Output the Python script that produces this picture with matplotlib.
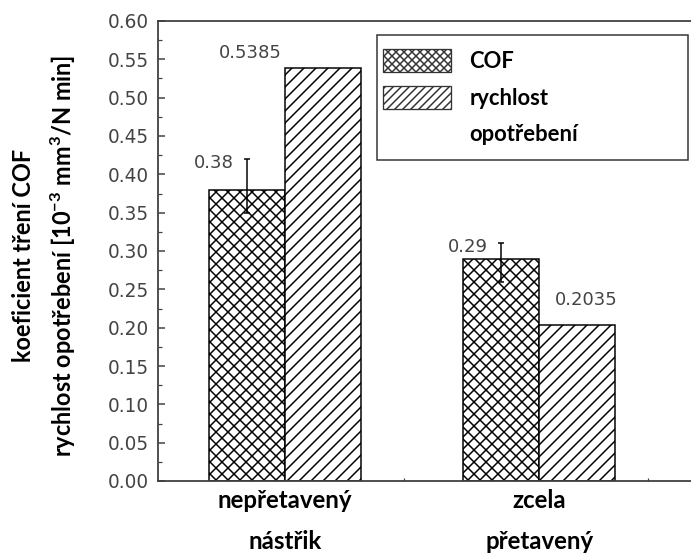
import numpy as np
import matplotlib
matplotlib.use('Agg')
import matplotlib.pyplot as plt
import matplotlib.ticker as mtick
from matplotlib.patches import Patch, Rectangle
from matplotlib.legend_handler import HandlerPatch

# data
groups = ['nepřetavený\nnástřik', 'zcela\npřetavený']
cof = [0.38, 0.29]
cof_err_low = [0.03, 0.03]
cof_err_high = [0.04, 0.02]
wear = [0.5385, 0.2035]
cof_labels = ['0.38', '0.29']
wear_labels = ['0.5385', '0.2035']

label_font = ['Lato', 'DejaVu Sans']
num_font = ['DejaVu Sans']
num_color = '#444444'
axis_color = '#404040'

plt.rcParams['hatch.linewidth'] = 1.5
plt.rcParams['mathtext.fontset'] = 'custom'
plt.rcParams['mathtext.bf'] = 'Lato:bold'
plt.rcParams['mathtext.rm'] = 'Lato:bold'


def short_patch(legend, orig_handle, xdescent, ydescent, width, height, fontsize):
    # shorter key, nudged left towards the frame
    h = 23
    return Rectangle((-xdescent - 6, -ydescent + (height - h) / 2), width, h)


# 72 dpi so that points == pixels
fig = plt.figure(figsize=(691 / 72, 553 / 72), dpi=72)
ax = fig.add_axes([158 / 691, 72 / 553, 559 / 691, 460 / 553])

x = np.arange(1, len(groups) + 1)
w = 0.3

ax.bar(x - w / 2, cof, w, color='white', edgecolor='black', linewidth=1.5,
       hatch='xx', zorder=2)
ax.bar(x + w / 2, wear, w, color='white', edgecolor='black', linewidth=1.5,
       hatch='//', zorder=2)
ax.errorbar(x - w / 2, cof, yerr=[cof_err_low, cof_err_high], fmt='none',
            ecolor='black', elinewidth=1.5, capsize=3, capthick=1.5, zorder=3)

# value labels
for xi, v, hi, txt in zip(x - w / 2, cof, cof_err_high, cof_labels):
    ax.annotate(txt, (xi, v + hi), xytext=(-13, -4), textcoords='offset points',
                ha='right', va='center', fontsize=18, family=num_font,
                color=num_color)
ax.annotate(wear_labels[0], (x[0] - w / 2, wear[0]), xytext=(3, 15),
            textcoords='offset points', ha='center', va='center',
            fontsize=18, family=num_font, color=num_color)
ax.annotate(wear_labels[1], (x[1] + w / 2, wear[1]), xytext=(9, 25),
            textcoords='offset points', ha='center', va='center',
            fontsize=18, family=num_font, color=num_color)

ax.set_xlim(0.5, 2.7)
ax.set_ylim(0, 0.6)
ax.set_xticks(x)
ax.set_xticklabels(groups, fontsize=24, fontweight='bold', family=label_font,
                   linespacing=1.95)
ax.xaxis.set_minor_locator(mtick.FixedLocator([1.47, 2.43]))
ax.yaxis.set_major_locator(mtick.MultipleLocator(0.05))
ax.yaxis.set_minor_locator(mtick.MultipleLocator(0.025))
ax.yaxis.set_major_formatter(mtick.FormatStrFormatter('%.2f'))
for lab in ax.get_yticklabels():
    lab.set_family(num_font)
ax.tick_params(axis='y', which='major', direction='in', length=7, width=1.5,
               labelsize=18.5, labelcolor=num_color, pad=9, color=axis_color)
ax.tick_params(axis='y', which='minor', direction='in', length=3.5, width=1.2,
               color=axis_color)
ax.tick_params(axis='x', which='major', length=0, pad=8)
ax.tick_params(axis='x', which='minor', direction='in', length=3, width=1.2,
               color=axis_color)

for side in ['left', 'bottom', 'top', 'right']:
    ax.spines[side].set_color(axis_color)
    ax.spines[side].set_linewidth(1.8)

ax.set_ylabel('koeficient tření COF\n'
              r'rychlost opotřebení [10$^{\mathbf{-3}}$ mm$^{\mathbf{3}}$/N min]',
              fontsize=23.5, fontweight='bold', family=label_font,
              linespacing=1.5)
ax.yaxis.set_label_coords(-80 / 559, 0.49)

handles = [Patch(facecolor='white', edgecolor='#333333', hatch='xxx', linewidth=1.3),
           Patch(facecolor='white', edgecolor='#333333', hatch='///', linewidth=1.3),
           Patch(facecolor='none', edgecolor='none')]
leg = ax.legend(handles, ['COF', 'rychlost', 'opotřebení'],
                loc='upper left', mode='expand',
                bbox_to_anchor=(377 / 691, 1 - 35 / 553, 311 / 691, 0),
                bbox_transform=fig.transFigure, borderaxespad=0,
                prop={'family': label_font, 'weight': 'bold', 'size': 22},
                handlelength=3.1, handleheight=1.5, handletextpad=0.55,
                labelspacing=0.45, borderpad=0.55, fancybox=False,
                framealpha=1, edgecolor='#333333',
                handler_map={Patch: HandlerPatch(patch_func=short_patch)})
leg.get_frame().set_linewidth(1.5)

fig.savefig('out.png', dpi=72)
